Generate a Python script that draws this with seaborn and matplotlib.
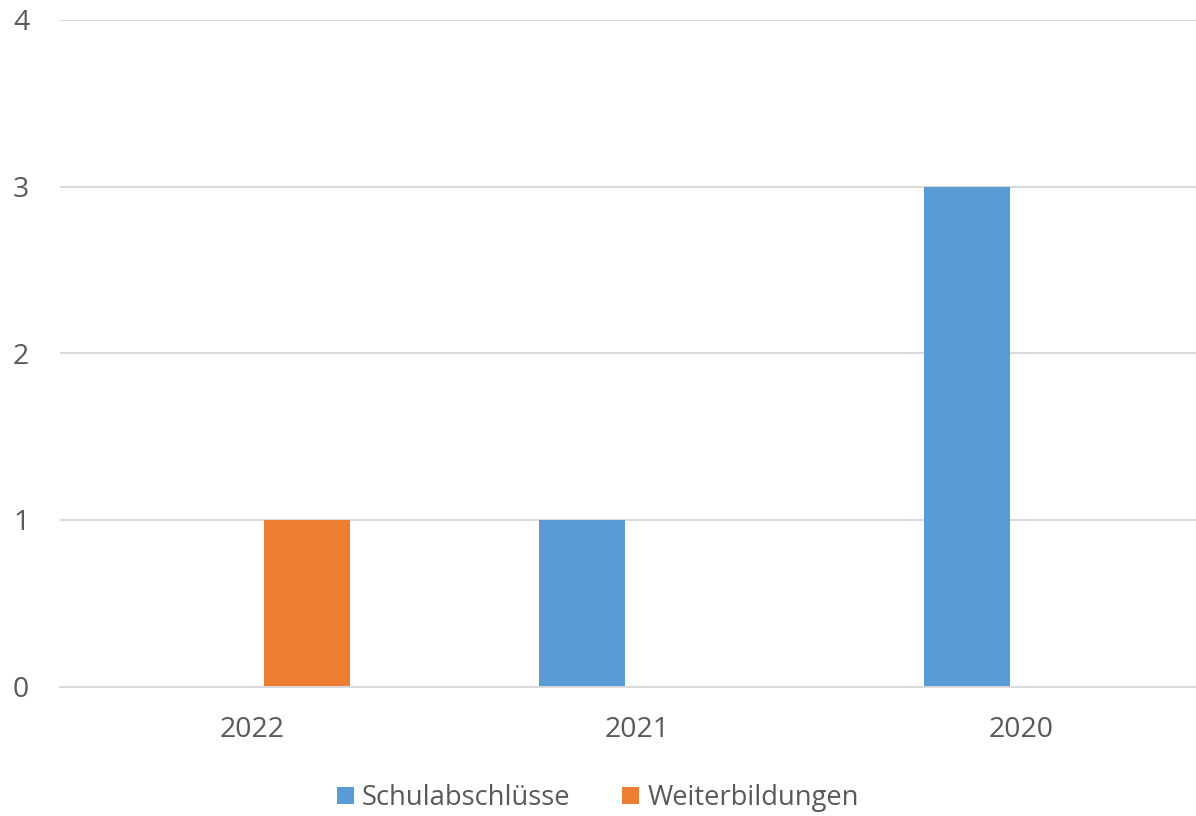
import pandas as pd
import seaborn as sns
import matplotlib.pyplot as plt

# Chart data
years = ["2022", "2021", "2020"]
schulabschluesse = [0, 1, 3]
weiterbildungen = [1, 0, 0]

df = pd.DataFrame({
    "Jahr": years * 2,
    "Wert": schulabschluesse + weiterbildungen,
    "Art": ["Schulabschlüsse"] * 3 + ["Weiterbildungen"] * 3,
})

sns.set_style("white")
plt.rcParams["font.family"] = ["Open Sans", "DejaVu Sans"]

fig = plt.figure(figsize=(11.96, 8.16), dpi=100)
# the plot area runs past the right edge of the picture, as in the original
ax = fig.add_axes([0.050, 0.1585, 0.965, 0.817])

sns.barplot(data=df, x="Jahr", y="Wert", hue="Art", order=years,
            palette=["#5b9bd5", "#ed7d31"], width=0.570, gap=0.216,
            saturation=1, linewidth=0, ax=ax, legend=True)

ax.set_ylim(0, 4)
ax.set_yticks([0, 1, 2, 3, 4])
ax.set_xlim(-0.5, 2.5)
ax.yaxis.grid(True, color="#d9d9d9", linewidth=1.4)
ax.set_axisbelow(True)
for s in ["top", "right", "left"]:
    ax.spines[s].set_visible(False)
ax.spines["bottom"].set_color("#d9d9d9")
ax.spines["bottom"].set_linewidth(1.4)
ax.tick_params(axis="both", length=0, labelsize=20.5, labelcolor="#595959")
ax.tick_params(axis="y", pad=22)
ax.tick_params(axis="x", pad=21)
ax.set_xlabel("")
ax.set_ylabel("")

handles, labels = ax.get_legend_handles_labels()
ax.get_legend().remove()
fig.legend(handles, labels, loc="center", bbox_to_anchor=(0.5, 0.022), ncol=2,
           frameon=False, fontsize=19.7, labelcolor="#595959",
           handlelength=0.62, handleheight=0.62, handletextpad=0.3,
           columnspacing=1.9)

fig.savefig("out.png", dpi=100)
